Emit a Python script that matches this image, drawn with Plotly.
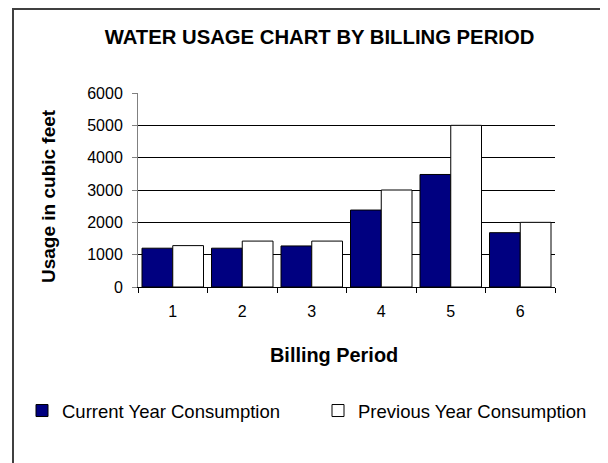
import plotly.graph_objects as go

periods = ["1", "2", "3", "4", "5", "6"]
current_year = [1200, 1200, 1270, 2380, 3480, 1680]
previous_year = [1280, 1420, 1420, 3000, 5000, 2000]
series_names = ["Current Year Consumption", "Previous Year Consumption"]
y_ticks = [0, 1000, 2000, 3000, 4000, 5000, 6000]
grid_ticks = [1000, 2000, 3000, 4000, 5000]

FONT = "Liberation Sans, Arial, sans-serif"

fig = go.Figure()
fig.add_trace(go.Bar(x=periods, y=current_year, name=series_names[0], legend="legend",
                     marker=dict(color="#000080", line=dict(color="black", width=1))))
fig.add_trace(go.Bar(x=periods, y=previous_year, name=series_names[1], legend="legend2",
                     marker=dict(color="white", line=dict(color="black", width=1))))
# invisible trace carrying the gridline axis
fig.add_trace(go.Scatter(x=periods, y=[None] * len(periods), yaxis="y2",
                         showlegend=False, hoverinfo="skip"))

W, H = 608, 463
L, R, T, B = 130, 61, 85, 184

legend_common = dict(orientation="h", xref="container", yref="container",
                     xanchor="left", yanchor="middle", y=1 - 403 / H,
                     font=dict(size=18.5, family=FONT, color="black"),
                     bgcolor="rgba(0,0,0,0)", borderwidth=0)

fig.update_layout(
    width=W, height=H,
    margin=dict(l=L, r=R, t=T, b=B, pad=0),
    paper_bgcolor="white", plot_bgcolor="white",
    font=dict(family=FONT, color="black", size=16),
    barmode="group", bargap=0.115, bargroupgap=0,
    title=dict(text="WATER USAGE CHART BY BILLING PERIOD",
               font=dict(family=FONT, size=20.3, weight="bold", color="black"),
               x=311.5 / W, xref="container", xanchor="center",
               y=1 - 28.8 / H, yref="container", yanchor="middle"),
    xaxis=dict(type="category", showgrid=False, showline=True, linecolor="black",
               linewidth=1, ticks="outside", tickson="boundaries", ticklen=5,
               tickcolor="black", tickfont=dict(size=16), ticklabelstandoff=10,
               zeroline=False),
    yaxis=dict(range=[0, 6000], tickvals=y_ticks, showgrid=False, showline=True,
               linecolor="#808080", linewidth=1, ticks="outside", ticklen=5,
               tickcolor="#808080", tickfont=dict(size=16), zeroline=False,
               ticklabelstandoff=6),
    yaxis2=dict(range=[0, 6000], overlaying="y", tickvals=grid_ticks,
                showgrid=True, gridcolor="black", gridwidth=1,
                showticklabels=False, showline=False, zeroline=False, ticks=""),
    legend=dict(x=14 / W, **legend_common),
    legend2=dict(x=310 / W, **legend_common),
    showlegend=True,
)

plot_w = W - L - R
plot_h = H - T - B

def px_to_paper_x(px):
    return (px - L) / plot_w

def px_to_paper_y(py):
    return (H - B - py) / plot_h

fig.add_annotation(text="Billing Period", xref="paper", yref="paper",
                   x=px_to_paper_x(326), y=px_to_paper_y(347),
                   xanchor="center", yanchor="middle", showarrow=False,
                   font=dict(family=FONT, size=19.9, weight="bold"))
fig.add_annotation(text="Usage in cubic feet", xref="paper", yref="paper",
                   x=px_to_paper_x(40), y=px_to_paper_y(188), textangle=-90,
                   xanchor="center", yanchor="middle", showarrow=False,
                   font=dict(family=FONT, size=19, weight="bold"))

# outer chart frame (only its top and left edges fall inside the picture)
fig.add_shape(type="rect", xref="paper", yref="paper",
              x0=px_to_paper_x(5), x1=px_to_paper_x(W + 50),
              y0=px_to_paper_y(H + 50), y1=px_to_paper_y(1),
              line=dict(color="#404040", width=2), fillcolor="rgba(0,0,0,0)",
              layer="above")

fig.write_html("out.html")
